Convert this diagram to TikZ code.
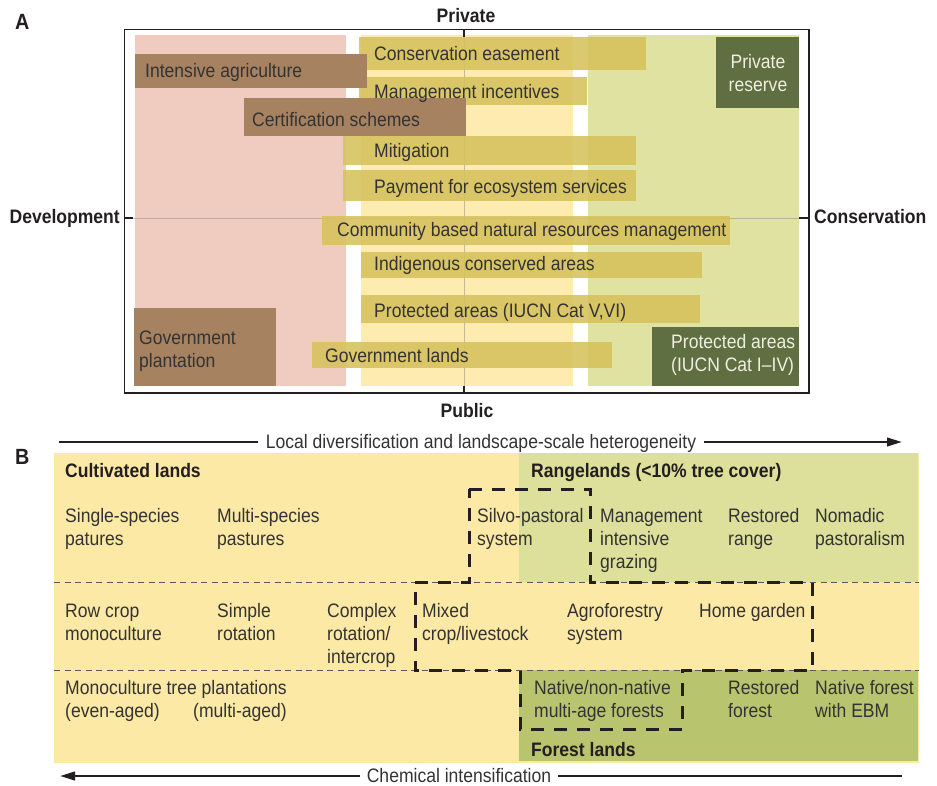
\documentclass[tikz,border=0pt]{standalone}
\usepackage{fontspec}
\setmainfont{Liberation Sans}[FakeStretch=0.9]
\usetikzlibrary{arrows.meta}
\definecolor{pinkreg}{HTML}{EFCCBF}
\definecolor{yelreg}{HTML}{FEEBB0}
\definecolor{grnreg}{HTML}{DFE2A0}
\definecolor{mustard}{HTML}{D6C15C}
\definecolor{brownbox}{HTML}{A68260}
\definecolor{dkgreen}{HTML}{5F6F41}
\definecolor{byellow}{HTML}{FDE9A6}
\definecolor{bgreen}{HTML}{DCE09A}
\definecolor{fgreen}{HTML}{B9C46F}
\definecolor{txt}{HTML}{333333}
\definecolor{ink}{HTML}{231F20}
\definecolor{lighttxt}{HTML}{EFEFE2}
\newcommand\fsz{\fontsize{19.5}{23}\selectfont}
\newcommand\bigfsz{\fontsize{22}{24}\selectfont}
\newcommand\st{\rule{0pt}{15pt}}
\begin{document}
\begin{tikzpicture}[x=1pt,y=-1pt,
  every node/.style={font=\fsz, text=txt, inner sep=0pt},
  mbox/.style={fill=mustard, fill opacity=0.88, anchor=north west},
  bbox/.style={fill=brownbox, anchor=north west},
  gbox/.style={fill=dkgreen, anchor=north west},
  lbl/.style={anchor=base west},
  hdr/.style={font=\fsz\bfseries, text=ink},
  panel/.style={font=\bigfsz\bfseries, text=ink, anchor=base west},
  ml/.style={anchor=north west, align=left},
  axisline/.style={draw=ink, line width=1.5pt},
  guide/.style={draw=black!45, opacity=0.5, line width=0.8pt},
  bigarrow/.style={draw=ink, line width=2.4pt},
  thindash/.style={draw=black!65, line width=0.8pt, dash pattern=on 6pt off 4.5pt},
  thickdash/.style={draw=ink, line width=3pt, dash pattern=on 13pt off 10pt}
]
\useasboundingbox (0,0) rectangle (937,786);

% ---------------- Panel A ----------------
\node[panel] (pA) at (15,29.5) {A};
\fill[pinkreg] (135,35) rectangle (346,386);
\fill[yelreg] (361,35) rectangle (573,386);
\fill[grnreg] (588,35) rectangle (799,386);
\draw[guide] (124.5,218) -- (809,218);
\draw[guide] (464,30) -- (464,393);

\node[mbox, minimum width=287pt, minimum height=33pt] (ce) at (359,37) {};
\node[mbox, minimum width=228pt, minimum height=28pt] (mi) at (359,77) {};
\node[mbox, minimum width=293pt, minimum height=29pt] (mit) at (343,136) {};
\node[mbox, minimum width=293pt, minimum height=31pt] (pes) at (343,170) {};
\node[mbox, minimum width=408pt, minimum height=29pt] (cbn) at (322,216) {};
\node[mbox, minimum width=341pt, minimum height=26pt] (ica) at (361,252) {};
\node[mbox, minimum width=339pt, minimum height=28pt] (pa56) at (361,295) {};
\node[mbox, minimum width=300pt, minimum height=26pt] (gl) at (312,342) {};

\node[bbox, minimum width=232pt, minimum height=34pt] (ia) at (135,54) {};
\node[bbox, minimum width=222pt, minimum height=38pt] (cs) at (244,98) {};
\node[bbox, minimum width=142pt, minimum height=78pt] (gp) at (134,308) {};
\node[gbox, minimum width=83pt, minimum height=71pt] (pr) at (716,37) {};
\node[gbox, minimum width=147pt, minimum height=59pt] (pa14) at (652,327) {};

\node[lbl] (cet) at (374,61) {Conservation easement};
\node[lbl] (iat) at (145,78) {Intensive agriculture};
\node[lbl] (mit1) at (374,99) {Management incentives};
\node[lbl] (cst) at (252,127) {Certification schemes};
\node[lbl] (mitt) at (374,158) {Mitigation};
\node[lbl] (pest) at (374,194) {Payment for ecosystem services};
\node[lbl] (cbnt) at (337,237) {Community based natural resources management};
\node[lbl] (icat) at (374,271) {Indigenous conserved areas};
\node[lbl] (pa56t) at (374,317) {Protected areas (IUCN Cat V,VI)};
\node[lbl] (glt) at (325,362) {Government lands};
\node[ml] (gpt) at (139,329) {\st Government\\plantation};
\node[anchor=north, align=center, text=lighttxt] (prt) at (758,53) {\st Private\\reserve};
\node[ml, text=lighttxt] (pa14t) at (671,333) {\st Protected areas\\(IUCN Cat I\textendash IV)};

\draw[draw=ink, line width=1.5pt] (124.5,29.5) rectangle (809,393);
\draw[axisline] (464,29.5) -- (464,37);
\draw[axisline] (464,386) -- (464,393);
\draw[axisline] (124.5,218) -- (133,218);
\draw[axisline] (799,218) -- (809,218);

\node[hdr, anchor=base] (priv) at (466,23) {Private};
\node[hdr, anchor=base] (pub) at (467,417) {Public};
\node[hdr, anchor=base east] (dev) at (120,224) {Development};
\node[hdr, anchor=base west] (cons) at (814,224) {Conservation};

% ---------------- Panel B ----------------
\node[panel] (pB) at (15,464) {B};
\coordinate (tl) at (59,442);
\coordinate (tr) at (902,442);
\node[anchor=base, inner xsep=8pt] (toplbl) at (481,448) {Local diversification and landscape-scale heterogeneity};
\draw[bigarrow] (tl) -- (toplbl.west |- tl);
\draw[bigarrow, -{Triangle[length=15pt,width=8.5pt]}] (toplbl.east |- tr) -- (tr);

\fill[byellow] (54,453) rectangle (919,763);
\fill[bgreen] (519,453) rectangle (918,582);
\fill[fgreen] (519,670) rectangle (918,761);
\draw[thindash] (54,582) -- (919,582);
\draw[thindash] (54,670) -- (919,670);

\draw[thickdash] (469,489) -- (590,489) -- (590,582) -- (812,582) -- (812,670)
  -- (682,670) -- (682,729) -- (520,729) -- (520,670) -- (415,670) -- (415,582)
  -- (469,582) -- cycle;

\node[hdr, lbl] (cult) at (65,477) {Cultivated lands};
\node[hdr, lbl] (range) at (531,477) {Rangelands (<10\% tree cover)};
\node[ml] (ssp) at (65,507) {\st Single-species\\patures};
\node[ml] (msp) at (217,507) {\st Multi-species\\pastures};
\node[ml] (silvo) at (477,507) {\st Silvo-pastoral\\system};
\node[ml] (mig) at (600,507) {\st Management\\intensive\\grazing};
\node[ml] (rr) at (728,507) {\st Restored\\range};
\node[ml] (nomad) at (815,507) {\st Nomadic\\pastoralism};

\node[ml] (rcm) at (65,602) {\st Row crop\\monoculture};
\node[ml] (simp) at (217,602) {\st Simple\\rotation};
\node[ml] (comp) at (327,602) {\st Complex\\rotation/\\intercrop};
\node[ml] (mixed) at (422,602) {\st Mixed\\crop/livestock};
\node[ml] (agro) at (567,602) {\st Agroforestry\\system};
\node[ml] (home) at (699,602) {\st Home garden};

\node[lbl] (mtp) at (65,694) {Monoculture tree plantations};
\node[lbl] (even) at (65,717) {(even-aged)};
\node[lbl] (multi) at (193,717) {(multi-aged)};
\node[ml] (native) at (534,679) {\st Native/non-native\\multi-age forests};
\node[ml] (rf) at (728,679) {\st Restored\\forest};
\node[ml] (nf) at (815,679) {\st Native forest\\with EBM};
\node[hdr, lbl] (forest) at (531,756) {Forest lands};

\coordinate (bl) at (60,776);
\coordinate (br) at (902,776);
\node[anchor=base, inner xsep=7pt] (botlbl) at (459,782) {Chemical intensification};
\draw[bigarrow, -{Triangle[length=15pt,width=8.5pt]}] (botlbl.west |- bl) -- (bl);
\draw[bigarrow] (botlbl.east |- br) -- (br);
\end{tikzpicture}
\end{document}
